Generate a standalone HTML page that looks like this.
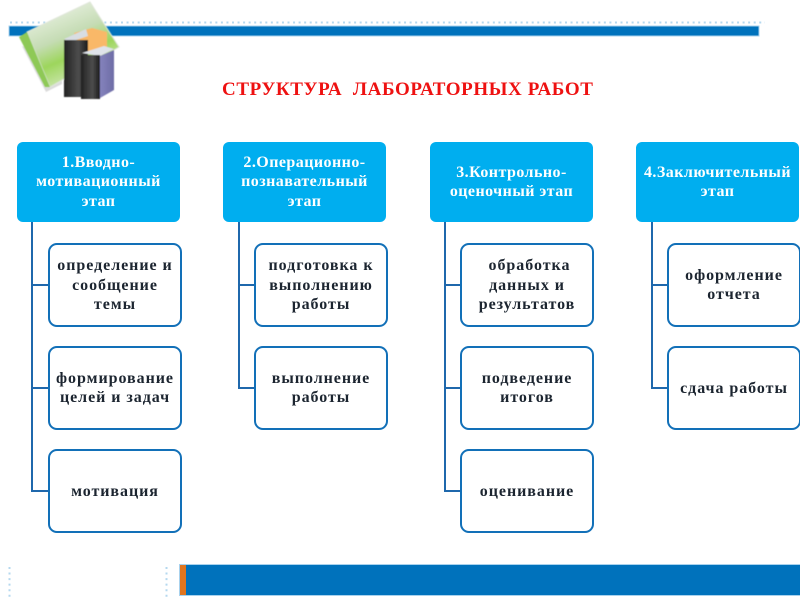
<!DOCTYPE html>
<html lang="ru"><head><meta charset="utf-8"><title>Структура лабораторных работ</title>
<style>
html,body{margin:0;padding:0;background:#fff}
#p{position:relative;width:800px;height:600px;overflow:hidden;background:#fff;font-family:"Liberation Serif","Noto Serif CJK SC",serif;filter:blur(.35px)}
.a{position:absolute}
.h,.c{position:absolute;box-sizing:border-box;display:flex;align-items:center;justify-content:center;text-align:center;font-weight:bold;font-size:16px;line-height:19.5px;white-space:nowrap}
.h{width:163px;height:80px;top:142px;background:#00aeef;color:#fff;border-radius:6px;letter-spacing:.45px}
.c{width:134px;height:84px;background:#fff;color:#1c2530;border:2.5px solid #1270b8;border-radius:9px;letter-spacing:.95px;padding-top:.5px}
.v,.l{position:absolute;background:#1f68ac}
.v{width:2px;top:222px}
.l{height:2px}
</style></head><body><div id="p">
<svg class="a" style="left:0;top:0" width="800" height="600">
<line x1="10" y1="22.5" x2="765" y2="22.5" stroke="#b5d8ef" stroke-width="2" stroke-dasharray="2 3.55"/>
<line x1="9.5" y1="567" x2="9.5" y2="597" stroke="#b5d8ef" stroke-width="2" stroke-dasharray="2 3.55"/>
<line x1="166.5" y1="567" x2="166.5" y2="597" stroke="#b5d8ef" stroke-width="2" stroke-dasharray="2 3.55"/>
<rect x="9" y="26" width="750" height="10" fill="#0072bc" stroke="#a8d2ee" stroke-width="1"/>
<rect x="179.5" y="564.5" width="621" height="31" fill="#0072bc" stroke="#a8d2ee" stroke-width="1"/>
<rect x="180" y="565" width="6" height="30" fill="#e0751f"/>
<defs>
<linearGradient id="g" x1="0.25" y1="0" x2="0.7" y2="1"><stop offset="0" stop-color="#eef3e8"/><stop offset=".4" stop-color="#c5dcb4"/><stop offset=".62" stop-color="#9dd65c"/><stop offset=".85" stop-color="#c8e5a8"/><stop offset="1" stop-color="#e6f2da"/></linearGradient>
<linearGradient id="d" x1="0" y1="0" x2="1" y2="0"><stop offset="0" stop-color="#222"/><stop offset=".6" stop-color="#4d4d4d"/><stop offset="1" stop-color="#1a1a1a"/></linearGradient>
<linearGradient id="b" x1="0" y1="0" x2="1" y2="0"><stop offset="0" stop-color="#8583bd"/><stop offset="1" stop-color="#6d6ca5"/></linearGradient>
<filter id="f"><feGaussianBlur stdDeviation=".6"/></filter>
</defs>
<g filter="url(#f)">
<polygon points="22,46 46,92 62,84 62,60" fill="#999" opacity=".35"/>
<polygon points="27,32 90,2 119,47 50,87" fill="url(#g)" stroke="#dfe6d8"/>
<polygon points="19,37 27,32 50,87 45,87" fill="#8ec957"/>
<polygon points="74,33 92,28 107,32 107,50 82,54" fill="#f9b868"/>
<polygon points="64,39 86,29 88,36 70,42" fill="#d8dde2"/>
<rect x="64" y="40" width="24" height="57" fill="url(#d)"/>
<polygon points="82,53 104,46 114,49 100,56" fill="#dfe3ea"/>
<rect x="81" y="55" width="19" height="44" fill="url(#d)"/>
<polygon points="100,56 114,50 114,90 100,98" fill="url(#b)"/>
</g>
</svg>
<div class="a" style="left:222px;top:79px;font-size:19px;line-height:22px;font-weight:bold;color:#ee1111;white-space:pre;letter-spacing:.6px">СТРУКТУРА  ЛАБОРАТОРНЫХ РАБОТ</div>

<div class="v" style="left:31px;height:270px"></div><div class="l" style="left:31px;top:284px;width:17px"></div><div class="l" style="left:31px;top:387px;width:17px"></div><div class="l" style="left:31px;top:490px;width:17px"></div>
<div class="v" style="left:238px;height:167px"></div><div class="l" style="left:238px;top:284px;width:17px"></div><div class="l" style="left:238px;top:387px;width:17px"></div>
<div class="v" style="left:444px;height:270px"></div><div class="l" style="left:444px;top:284px;width:17px"></div><div class="l" style="left:444px;top:387px;width:17px"></div><div class="l" style="left:444px;top:490px;width:17px"></div>
<div class="v" style="left:651px;height:167px"></div><div class="l" style="left:651px;top:284px;width:17px"></div><div class="l" style="left:651px;top:387px;width:17px"></div>

<div class="h" style="left:17px">1.Вводно-<br>мотивационный<br>этап</div>
<div class="h" style="left:223px">2.Операционно-<br>познавательный<br>этап</div>
<div class="h" style="left:430px">3.Контрольно-<br>оценочный этап</div>
<div class="h" style="left:636px">4.Заключительный<br>этап</div>

<div class="c" style="left:48px;top:243px">определение и<br>сообщение<br>темы</div>
<div class="c" style="left:48px;top:346px">формирование<br>целей и задач</div>
<div class="c" style="left:48px;top:449px">мотивация</div>

<div class="c" style="left:254px;top:243px">подготовка к<br>выполнению<br>работы</div>
<div class="c" style="left:254px;top:346px">выполнение<br>работы</div>

<div class="c" style="left:460px;top:243px"><span>&nbsp;обработка<br>данных и<br>результатов</span></div>
<div class="c" style="left:460px;top:346px">подведение<br>итогов</div>
<div class="c" style="left:460px;top:449px">оценивание</div>

<div class="c" style="left:667px;top:243px">оформление<br>отчета</div>
<div class="c" style="left:667px;top:346px">сдача работы</div>
</div></body></html>
